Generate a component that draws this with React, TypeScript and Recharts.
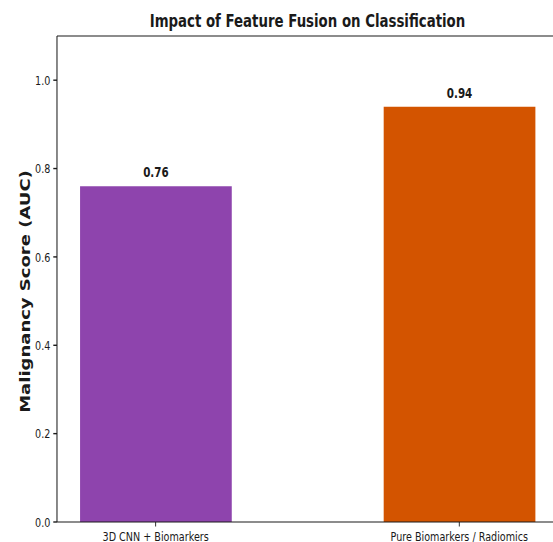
import { BarChart, Bar, XAxis, YAxis, Cell, LabelList, ReferenceLine } from "recharts";

const categories = ["3D CNN + Biomarkers", "Pure Biomarkers / Radiomics"];
const aucScores = [0.76, 0.94];
const barColors = ["#8E44AD", "#D35400"];
const yTicks = [0, 0.2, 0.4, 0.6, 0.8, 1.0];

const data = categories.map((name, i) => ({ pos: i, name, auc: aucScores[i] }));

// the reference image is squeezed horizontally, so draw wide and scale down
const SQUISH = 0.74;
const FONT = '"DejaVu Sans", Verdana, sans-serif';
const INK = "#1a1a1a";

const YAxisTitle = ({ viewBox }: { viewBox?: { x: number; y: number; width: number; height: number } }) => {
  if (!viewBox) return null;
  const x = viewBox.x + 41;
  const y = viewBox.y + viewBox.height / 2 + 12.5;
  return (
    <text
      x={x}
      y={y}
      transform={`rotate(-90, ${x}, ${y})`}
      textAnchor="middle"
      fontFamily={FONT}
      fontSize={18}
      fontWeight="bold"
      fill={INK}
    >
      Malignancy Score (AUC)
    </text>
  );
};

export default function App() {
  return (
    <div style={{ position: "absolute", left: 0, top: 0, width: 553, height: 542, overflow: "hidden", background: "#fff" }}>
      <div style={{ position: "relative", width: 760, height: 542, transform: `scaleX(${SQUISH})`, transformOrigin: "0 0" }}>
        <div
          style={{
            position: "absolute", left: 77, width: 677, top: 11.8, textAlign: "center",
            fontFamily: FONT, fontSize: 18, lineHeight: "18px", fontWeight: "bold", color: INK,
          }}
        >
          Impact of Feature Fusion on Classification
        </div>
        <BarChart width={760} height={542} data={data} margin={{ top: 36, right: 6, bottom: 0, left: 0 }}>
          <XAxis
            type="number"
            dataKey="pos"
            domain={[-0.325, 1.325]}
            ticks={[0, 1]}
            allowDataOverflow
            tickFormatter={(v: number) => categories[v]}
            height={20}
            tickSize={4.5}
            tickMargin={5.5}
            stroke={INK}
            strokeWidth={1.2}
            tick={{ fill: INK, fontSize: 13, fontFamily: FONT }}
          />
          <YAxis
            type="number"
            domain={[0, 1.1]}
            ticks={yTicks}
            allowDataOverflow
            width={77}
            tickSize={5}
            tickMargin={4}
            tickFormatter={(v: number) => v.toFixed(1)}
            stroke={INK}
            strokeWidth={1.4}
            tick={{ fill: INK, fontSize: 13, fontFamily: FONT }}
            label={<YAxisTitle />}
          />
          <ReferenceLine y={1.1} stroke={INK} strokeWidth={1.2} />
          <Bar dataKey="auc" barSize={205} isAnimationActive={false}>
            {data.map((d, i) => (
              <Cell key={d.name} fill={barColors[i]} />
            ))}
            <LabelList
              dataKey="auc"
              position="top"
              offset={9}
              formatter={(v: number) => v.toFixed(2)}
              style={{ fill: INK, fontSize: 14, fontWeight: "bold", fontFamily: FONT }}
            />
          </Bar>
        </BarChart>
      </div>
    </div>
  );
}
